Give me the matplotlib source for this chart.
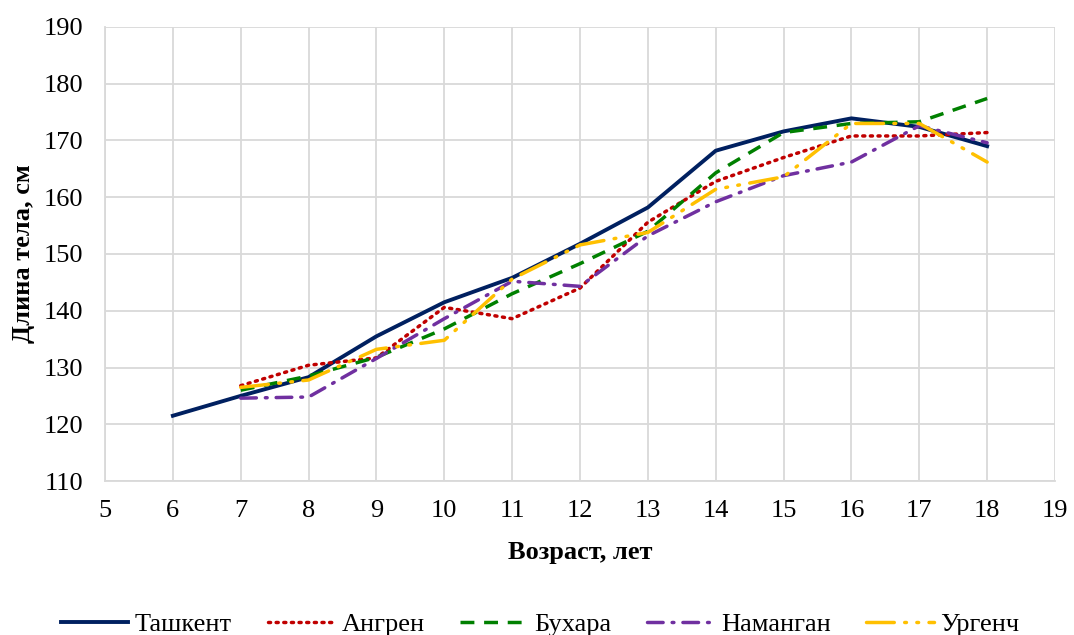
import matplotlib.pyplot as plt
import numpy as np

plt.rcParams['font.family'] = ['Liberation Serif', 'DejaVu Serif']

ages_tash = [6, 7, 8, 9, 10, 11, 12, 13, 14, 15, 16, 17, 18]
ages = [7, 8, 9, 10, 11, 12, 13, 14, 15, 16, 17, 18]

tashkent = [121.5, 125.0, 128.3, 135.5, 141.5, 145.8, 151.8, 158.2, 168.2, 171.6, 173.9, 172.4, 169.0]
angren = [126.8, 130.4, 131.7, 140.6, 138.6, 144.0, 155.6, 162.8, 167.0, 170.8, 170.8, 171.4]
bukhara = [126.0, 128.5, 131.8, 136.8, 143.0, 148.3, 154.0, 164.3, 171.4, 173.0, 173.3, 177.4]
namangan = [124.6, 124.8, 131.6, 138.6, 145.2, 144.3, 153.2, 159.2, 163.8, 166.2, 172.6, 169.6]
urgench = [126.5, 127.8, 133.2, 134.8, 145.6, 151.6, 153.8, 161.4, 163.6, 173.0, 173.0, 166.2]

fig = plt.figure(figsize=(10.74, 6.35), dpi=100)
ax = fig.add_axes([0.0978, 0.2425, 0.8845, 0.715])

lw = 2.5
ax.plot(ages_tash, tashkent, color='#002060', lw=2.8, label='Ташкент')
ax.plot(ages, angren, color='#C00000', lw=lw, linestyle=(0, (0.6, 1.6)),
        dash_capstyle='round', label='Ангрен')
ax.plot(ages, bukhara, color='#008000', lw=lw, linestyle=(0, (4, 2.8)), label='Бухара')
ax.plot(ages, namangan, color='#7030A0', lw=lw, linestyle=(0, (4.5, 2.6, 0.5, 2.6)),
        dash_capstyle='round', label='Наманган')
ax.plot(ages, urgench, color='#FFC000', lw=lw, linestyle=(0, (8, 3, 0.5, 3, 0.5, 3)),
        dash_capstyle='round', label='Ургенч')

ax.set_xlim(5, 19)
ax.set_ylim(110, 190)
ax.set_xticks(np.arange(5, 20, 1))
ax.set_yticks(np.arange(110, 191, 10))
ax.grid(True, color='#d9d9d9', lw=1.3)
ax.set_axisbelow(True)
for s in ['top', 'right']:
    ax.spines[s].set_visible(False)
for s in ['left', 'bottom']:
    ax.spines[s].set_color('#d9d9d9')
    ax.spines[s].set_linewidth(1.3)
ax.tick_params(axis='y', length=0, labelsize=19, pad=16)
ax.tick_params(axis='x', length=0, labelsize=19, pad=14)
ax.set_xlabel('Возраст, лет', fontsize=19, fontweight='bold', labelpad=13)
ax.set_ylabel('Длина тела, см', fontsize=19, fontweight='bold', labelpad=6)

fig.legend(loc='center', bbox_to_anchor=(0.503, 0.017), ncol=5, frameon=False,
           fontsize=19, handlelength=2.55, columnspacing=1.35, handletextpad=0.25)

fig.savefig('out.png', dpi=100)
